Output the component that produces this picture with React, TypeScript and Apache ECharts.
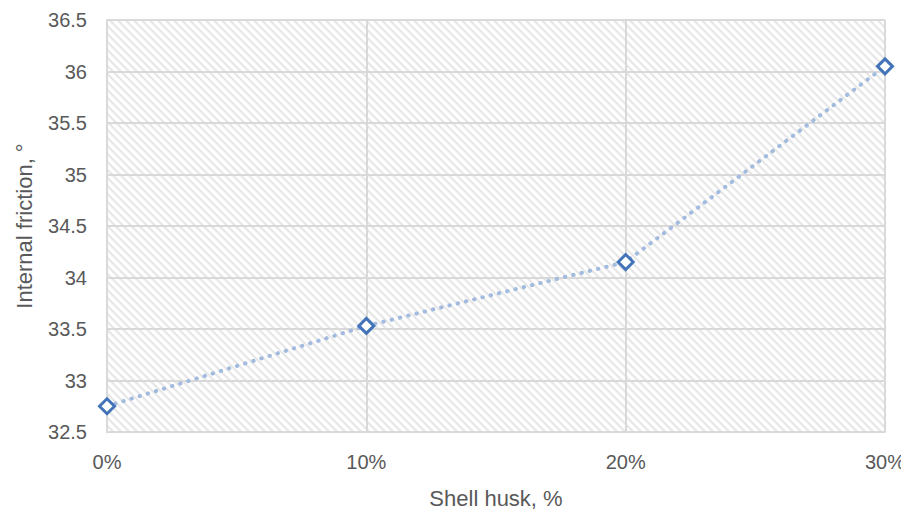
import React, { useEffect, useRef } from "react";
import * as echarts from "echarts";

const categories = ["0%", "10%", "20%", "30%"];
const frictionValues = [32.75, 33.53, 34.15, 36.05];
const yTicks = { min: 32.5, max: 36.5, interval: 0.5 };

function makeHatch(): HTMLCanvasElement {
  const size = 8;
  const c = document.createElement("canvas");
  c.width = size;
  c.height = size;
  const ctx = c.getContext("2d")!;
  const img = ctx.createImageData(size, size);
  for (let y = 0; y < size; y++) {
    for (let x = 0; x < size; x++) {
      const d = (((x - y) % size) + size) % size;
      let v = 255;
      if (d === 0 || d === 3) v = 242;
      else if (d === 1 || d === 2) v = 230;
      const i = (y * size + x) * 4;
      img.data[i] = v;
      img.data[i + 1] = v;
      img.data[i + 2] = v;
      img.data[i + 3] = 255;
    }
  }
  ctx.putImageData(img, 0, 0);
  return c;
}

export default function App() {
  const ref = useRef<HTMLDivElement>(null);
  useEffect(() => {
    if (!ref.current) return;
    const chart = echarts.init(ref.current, null, { renderer: "svg" });
    const font = "'Liberation Sans', Arial, sans-serif";
    const gridColor = "#d9d9d9";
    chart.setOption({
      animation: false,
      backgroundColor: "#ffffff",
      grid: {
        left: 107,
        right: 24,
        top: 20,
        bottom: 88,
        outerBoundsMode: "none",
        show: true,
        borderWidth: 0,
        backgroundColor: { image: makeHatch(), repeat: "repeat" },
      },
      xAxis: {
        type: "category",
        data: categories,
        boundaryGap: false,
        name: "Shell husk, %",
        nameLocation: "middle",
        nameGap: 55,
        nameTextStyle: { fontFamily: font, fontSize: 22, color: "#595959" },
        axisLine: { show: true, lineStyle: { color: gridColor, width: 2 } },
        axisTick: { show: false },
        axisLabel: { fontFamily: font, fontSize: 20, color: "#595959", margin: 20 },
        splitLine: { show: true, lineStyle: { color: gridColor, width: 2 } },
      },
      yAxis: {
        type: "value",
        min: yTicks.min,
        max: yTicks.max,
        interval: yTicks.interval,
        name: "Internal friction, °",
        nameLocation: "middle",
        nameGap: 72,
        nameTextStyle: { fontFamily: font, fontSize: 22, color: "#595959" },
        axisLine: { show: true, lineStyle: { color: gridColor, width: 2 } },
        axisTick: { show: false },
        axisLabel: { fontFamily: font, fontSize: 20, color: "#595959", margin: 20 },
        splitLine: { show: true, lineStyle: { color: gridColor, width: 2 } },
      },
      series: [
        {
          type: "line",
          data: frictionValues,
          symbol: "diamond",
          symbolSize: 15,
          showSymbol: true,
          itemStyle: { color: "#ffffff", borderColor: "#4374b9", borderWidth: 3 },
          lineStyle: { color: "#a2bbdf", width: 4, type: [0.5, 8], cap: "round" },
          z: 3,
        },
      ],
    });
    return () => chart.dispose();
  }, []);
  return <div ref={ref} style={{ width: 909, height: 520, margin: -8 }} />;
}
